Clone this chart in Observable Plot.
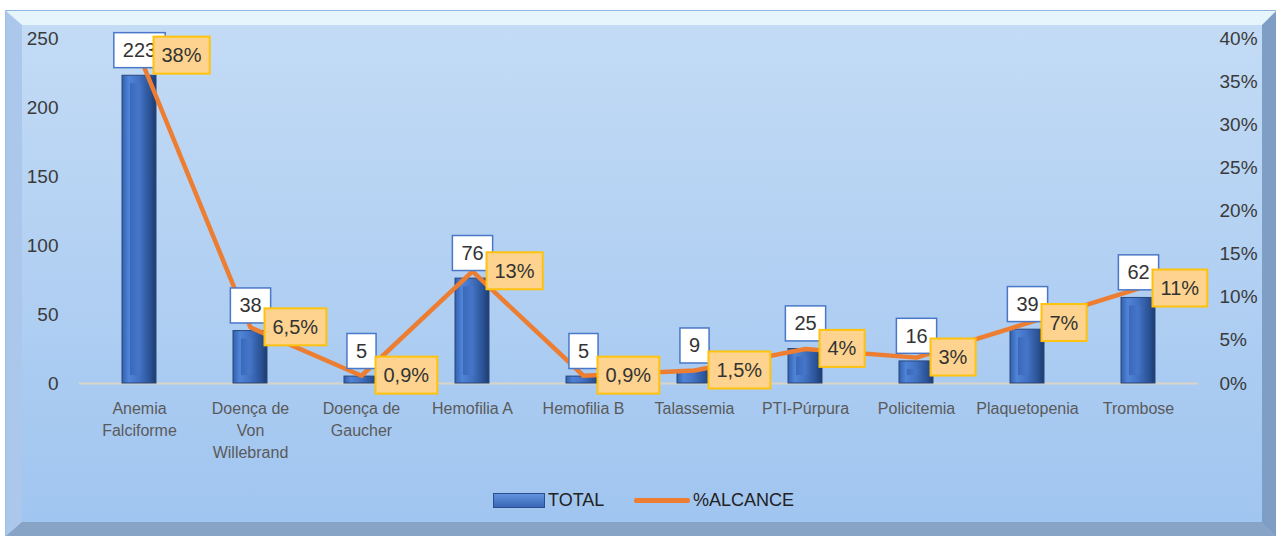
<!DOCTYPE html>
<html><head><meta charset="utf-8">
<script src="https://cdn.jsdelivr.net/npm/d3@7"></script>
<script src="https://cdn.jsdelivr.net/npm/@observablehq/plot@0.6"></script>
<style>
html,body{margin:0;padding:0;background:#fff;}
#wrap{position:relative;width:1276px;height:536px;overflow:hidden;font-family:"Liberation Sans",Arial,sans-serif;}
#frame{position:absolute;left:5px;top:10px;right:0;bottom:0;border-left:1px solid #9cc0e8;border-top:1px solid #8db6e3;}
#bevel{position:absolute;left:0;top:0;right:0;bottom:0;box-sizing:border-box;border-style:solid;border-width:14px 14px 14px 16px;border-color:#e6f5fb #7e9ec5 #87a4c7 #abc8ec;background:linear-gradient(#c3dbf5,#a0c5f0);}
#chart{position:absolute;left:0;top:0;}
.lg{position:absolute;font-size:18px;color:#222;line-height:20px;}
</style></head>
<body>
<div id="wrap">
  <div id="frame"><div id="bevel"></div></div>
  <div id="chart"></div>
  <div class="lg" style="left:493px;top:493px;width:50px;height:13px;border:1px solid #2b4f8e;background:linear-gradient(#6193de,#3a67b6);"></div>
  <div class="lg" style="left:548px;top:490px;">TOTAL</div>
  <div class="lg" style="left:634px;top:498px;width:56px;height:5px;background:#ED7D31;border-radius:2px;"></div>
  <div class="lg" style="left:693px;top:490px;">%ALCANCE</div>
</div>
<script>
const categories = ["Anemia Falciforme","Doença de Von Willebrand","Doença de Gaucher","Hemofilia A","Hemofilia B","Talassemia","PTI-Púrpura","Policitemia","Plaquetopenia","Trombose"];
const tickLabels = ["Anemia\nFalciforme","Doença de\nVon\nWillebrand","Doença de\nGaucher","Hemofilia A","Hemofilia B","Talassemia","PTI-Púrpura","Policitemia","Plaquetopenia","Trombose"];
const totals = [223,38,5,76,5,9,25,16,39,62];
const percents = [38,6.5,0.9,13,0.9,1.5,4,3,7,11];
const leftTicks = [0,50,100,150,200,250];
const rightTicks = [0,5,10,15,20,25,30,35,40];
const RATIO = 250/40;

const data = categories.map((c,i)=>({cat:c,total:totals[i],pct:percents[i],pctY:percents[i]*RATIO,
  pctLabel:String(percents[i]).replace(".",",")+"%"}));

const plot = Plot.plot({
  width:1276, height:470, marginLeft:79, marginRight:78, marginTop:38, marginBottom:87,
  style:{background:"transparent", fontFamily:"Liberation Sans, Arial, sans-serif", overflow:"visible"},
  x:{domain:categories, paddingInner:0.69, paddingOuter:0.345},
  y:{domain:[0,250]},
  marks:[
    Plot.axisY(leftTicks,{anchor:"left", tickSize:0, tickPadding:21, fontSize:19, fill:"#3a3a3a", label:null}),
    Plot.axisY(rightTicks.map(d=>d*RATIO),{anchor:"right", tickSize:0, tickPadding:21, fontSize:19, fill:"#3a3a3a", textAnchor:"start", tickFormat:d=>Math.round(d/RATIO)+"%", label:null}),
    Plot.axisX({tickSize:0, tickPadding:15, fontSize:16, fill:"#5a5a5a", lineHeight:1.38, tickFormat:d=>tickLabels[categories.indexOf(d)], label:null}),
    Plot.ruleY([0],{stroke:"#d9d4c8", strokeWidth:2}),
    Plot.barY(data,{x:"cat", y:"total", fill:"url(#barGrad)", stroke:"#27477f", strokeWidth:1}),
    Plot.barY(data.filter(d=>d.total>=16),{x:"cat", y:"total", insetLeft:8, insetRight:8, insetTop:8, insetBottom:8, fill:"url(#barGrad2)"}),
    Plot.lineY(data,{x:"cat", y:"pctY", stroke:"#ED7D31", strokeWidth:4.5}),
    Plot.text(data,{x:"cat", y:"total", text:d=>String(d.total), dy:-25, fontSize:20, fill:"#333", lineAnchor:"middle"}),
    Plot.text(data,{x:"cat", y:"pctY", text:"pctLabel", dx:22, textAnchor:"start", fontSize:20, fill:"#333", lineAnchor:"middle"})
  ]
});
document.getElementById("chart").append(plot);

const svg = d3.select(plot);
const defs = svg.insert("defs",":first-child");
function grad(id, stops){
  const g = defs.append("linearGradient").attr("id",id).attr("x1","0").attr("x2","1").attr("y1","0").attr("y2","0");
  stops.forEach(([o,c])=>g.append("stop").attr("offset",o).attr("stop-color",c));
}
grad("barGrad",[[0,"#3360ab"],[0.2,"#4f84d8"],[0.5,"#4271c2"],[0.8,"#2c559a"],[1,"#1e3a6c"]]);
grad("barGrad2",[[0,"#3a69ba"],[0.5,"#4676c9"],[1,"#2d569c"]]);

const textGroups = svg.selectAll('g[aria-label="text"]').nodes();
function boxes(g, fill, stroke, sw, h, padX){
  d3.select(g).selectAll("text").each(function(){
    const b = this.getBBox();
    const cy = b.y + b.height/2;
    const r = d3.select(g).insert("rect", ()=>this)
      .attr("x", b.x - padX).attr("y", cy - h/2)
      .attr("width", b.width + 2*padX).attr("height", h)
      .attr("fill", fill).attr("stroke", stroke).attr("stroke-width", sw);
    const t = this.getAttribute("transform");
    if (t) r.attr("transform", t);
  });
}
boxes(textGroups[0], "#ffffff", "#4a78c8", 1.5, 35, 9);
boxes(textGroups[1], "#fdd38f", "#ffc20e", 2, 37, 8);
</script>
</body></html>
